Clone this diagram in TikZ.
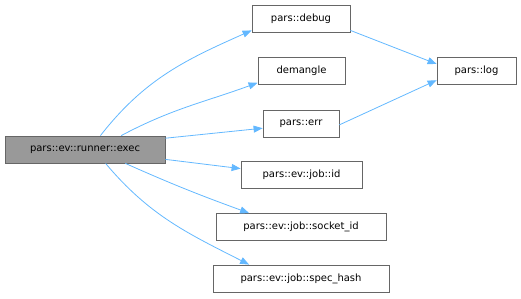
\documentclass[tikz,border=0pt]{standalone}
\usepackage{fontspec}
\setmainfont{DejaVu Sans}
\usepackage{xcolor}
\usepackage{tikz}
\usetikzlibrary{arrows.meta}

\definecolor{edgeblue}{HTML}{63B8FF}
\definecolor{boxgray}{HTML}{666666}
\definecolor{rootfill}{HTML}{999999}

\begin{document}
\begin{tikzpicture}[x=1pt, y=-1pt,
            font=\fontsize{10}{12}\selectfont,
            fn/.style={draw=boxgray, line width=0.8pt, fill=white, rectangle, minimum height=27pt, inner sep=0pt},
            call/.style={draw=edgeblue, line width=0.8pt, -{Stealth[inset=0pt, length=9pt, width=7pt]}}]
            \useasboundingbox (0,0) rectangle (521,298);

            % caller
            \node[fn, fill=rootfill, minimum width=160pt] (exec) at (85,149.5) {pars::ev::runner::exec};

            % callees
            \node[fn, minimum width=98pt] (debug) at (301,19) {pars::debug};
            \node[fn, minimum width=87pt] (demangle) at (301.5,71) {demangle};
            \node[fn, minimum width=76pt] (err) at (301,123.5) {pars::err};
            \node[fn, minimum width=121pt] (jobid) at (301.5,175) {pars::ev::job::id};
            \node[fn, minimum width=170pt] (socketid) at (301,227) {pars::ev::job::socket\_id};
            \node[fn, minimum width=176pt] (spechash) at (301,278.5) {pars::ev::job::spec\_hash};
            \node[fn, minimum width=79pt] (log) at (476.5,71) {pars::log};

            \draw[call] (exec.42) to[out=52, in=204] (debug.193);
            \draw[call] (exec.21) to[out=28, in=200] (demangle.195);
            \draw[call] (exec.8) -- (err.187);
            \draw[call] (exec.-7.5) -- (jobid.174);
            \draw[call] (exec.-19) to[out=-24, in=160] (socketid.165);
            \draw[call] (exec.-34) to[out=-50, in=153] (spechash.165);
            \draw[call] (debug.-13) -- (log.170);
            \draw[call] (err.-2) -- (log.193);
        \end{tikzpicture}
\end{document}
